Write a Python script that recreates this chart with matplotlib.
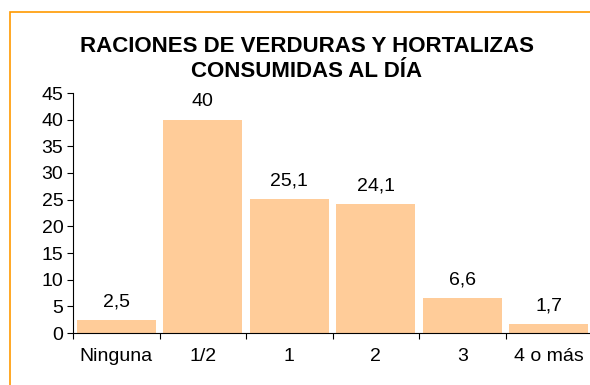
import matplotlib.pyplot as plt
from matplotlib.patches import Rectangle

# Raciones de verduras y hortalizas consumidas al día (%)
categorias = ["Ninguna", "1/2", "1", "2", "3", "4 o más"]
porcentajes = [2.5, 40, 25.1, 24.1, 6.6, 1.7]
etiquetas = ["2,5", "40", "25,1", "24,1", "6,6", "1,7"]

BAR = "#FFCC99"
BORDE = "#FF9900"
FS = 14

plt.rcParams["font.family"] = ["Liberation Sans", "DejaVu Sans"]

fig = plt.figure(figsize=(5.9, 3.85), dpi=100, facecolor="white")

# marco naranja del gráfico (se sale por la derecha y por abajo)
fig.patches.append(Rectangle((10 / 590, -0.1), 1.2, (385 - 12) / 385 + 0.1,
                             transform=fig.transFigure, fill=False,
                             edgecolor=BORDE, lw=1.2, clip_on=False))

ax = fig.add_axes([73 / 590, 52 / 385, 519 / 590, 240 / 385])
x = range(len(categorias))
ax.bar(x, porcentajes, width=0.915, color=BAR, edgecolor="none")
for xi, v, t in zip(x, porcentajes, etiquetas):
    ax.text(xi, v + 1.8, t, ha="center", va="bottom", fontsize=FS)

ax.set_xlim(-0.5, len(categorias) - 0.5)
ax.set_ylim(0, 45)
ax.set_yticks(range(0, 46, 5))
ax.set_xticks([i - 0.5 for i in range(len(categorias) + 1)])
ax.set_xticklabels([])
ax.set_xticks(list(x), minor=True)
ax.set_xticklabels(categorias, minor=True, fontsize=FS)
ax.tick_params(axis="x", which="major", length=4, width=0.8, direction="out")
ax.tick_params(axis="x", which="minor", length=0, pad=10.5)
ax.tick_params(axis="y", length=4, width=0.8, labelsize=FS, pad=3)
for s in ["top", "right"]:
    ax.spines[s].set_visible(False)
for s in ["left", "bottom"]:
    ax.spines[s].set_linewidth(0.8)

fig.text(0.52, 1 - 59 / 385,
         "RACIONES DE VERDURAS Y HORTALIZAS\nCONSUMIDAS AL DÍA",
         ha="center", va="center", fontsize=16, fontweight="bold",
         linespacing=1.28)

fig.savefig("out.png", dpi=100, facecolor="white")
